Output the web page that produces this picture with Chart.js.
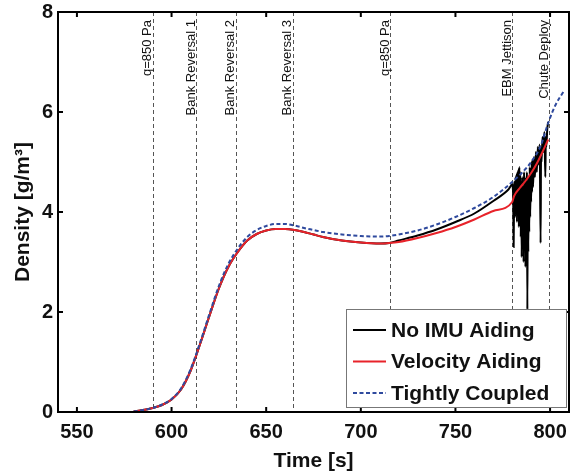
<!DOCTYPE html>
<html>
<head>
<meta charset="utf-8">
<script src="https://cdn.jsdelivr.net/npm/chart.js@4.4.1/dist/chart.umd.min.js"></script>
<style>
  body { margin: 0; background: #fff; }
  canvas { display: block; }
</style>
</head>
<body>
<canvas id="graficodensidad" width="571" height="474"></canvas>
<script>
// Values
const noAidTime = [580, 585, 590, 595, 600, 605, 610, 615, 620, 625, 630, 635, 640, 645, 650, 655, 660, 665, 670, 675, 680, 690, 700, 710, 715, 720, 730, 740, 750, 760, 770, 778,
  780, 780.25, 780.5, 780.75, 781, 781.25, 781.5, 781.75, 782, 782.25, 782.5, 782.75, 783, 783.25, 783.5, 783.75,
  784, 784.25, 784.5, 784.75, 785, 785.25, 785.5, 785.75, 786, 786.25, 786.5, 786.75, 787, 787.25, 787.5, 787.75,
  788, 788.25, 788.5, 788.75, 789, 789.25, 789.5, 789.75, 790, 790.25, 790.5, 790.75, 791, 791.5, 792, 792.5,
  793, 793.5, 794, 794.5, 795, 795.25, 795.5, 796, 796.5, 797, 797.5, 797.75, 798, 798.5, 799];
const noAidDensity = [0.01, 0.04, 0.08, 0.14, 0.25, 0.45, 0.82, 1.35, 1.92, 2.47, 2.9, 3.2, 3.43, 3.56, 3.63, 3.66, 3.66, 3.64, 3.6, 3.55, 3.5, 3.43, 3.39, 3.37, 3.38, 3.43, 3.53, 3.65, 3.8, 3.97, 4.22, 4.45,
  4.55, 4.5, 4.3, 3.3, 4.4, 4.6, 3.9, 4.7, 4.3, 4.75, 3.8, 4.8, 4.1, 4.85, 3.7, 4.9,
  4.2, 4.8, 3.5, 4.6, 3.1, 4.7, 3.6, 4.5, 3.0, 4.8, 3.3, 4.6, 2.9, 4.7, 3.4, 4.8,
  2.05, 4.6, 3.2, 4.7, 3.6, 4.9, 3.9, 4.8, 4.2, 5.0, 4.4, 5.05, 4.5, 5.1, 4.7, 5.2,
  4.8, 5.3, 4.95, 5.35, 3.38, 5.3, 5.0, 5.5, 5.2, 5.6, 4.7, 5.5, 5.3, 5.65, 5.8];

const velTime = [580, 585, 590, 595, 600, 605, 610, 615, 620, 625, 630, 635, 640, 645, 650, 655, 660, 665, 670, 675, 680, 690, 700, 710, 715, 720, 730, 740, 750, 760, 770, 780, 781, 784, 787, 790, 793, 796, 799];
const velDensity = [0.01, 0.04, 0.08, 0.14, 0.25, 0.45, 0.82, 1.35, 1.92, 2.47, 2.9, 3.2, 3.43, 3.56, 3.63, 3.66, 3.66, 3.64, 3.6, 3.55, 3.5, 3.43, 3.39, 3.37, 3.38, 3.4, 3.48, 3.58, 3.7, 3.85, 4.02, 4.2, 4.32, 4.48, 4.62, 4.78, 4.97, 5.2, 5.45];

const tightTime = [580, 585, 590, 595, 600, 605, 610, 615, 620, 625, 630, 635, 640, 645, 650, 655, 660, 665, 670, 675, 680, 690, 700, 710, 715, 720, 730, 740, 750, 760, 770, 780, 785, 790, 795, 799, 803, 807];
const tightDensity = [0.01, 0.04, 0.08, 0.15, 0.26, 0.47, 0.85, 1.38, 1.96, 2.52, 2.96, 3.27, 3.5, 3.64, 3.72, 3.76, 3.76, 3.73, 3.68, 3.64, 3.6, 3.55, 3.52, 3.51, 3.52, 3.55, 3.63, 3.75, 3.9, 4.08, 4.3, 4.6, 4.78, 5.0, 5.32, 5.78, 6.15, 6.4];

const seriesLabels = ['No IMU Aiding', 'Velocity Aiding', 'Tightly Coupled'];

const eventTimes = [590, 613, 634, 664, 715.5, 780, 799.5];
const eventLabels = ['q=850 Pa', 'Bank Reversal 1', 'Bank Reversal 2', 'Bank Reversal 3', 'q=850 Pa', 'EBM Jettison', 'Chute Deploy'];

const xTicks = [550, 600, 650, 700, 750, 800];
const yTicks = [0, 2, 4, 6, 8];

const toPoints = (t, v) => t.map((x, i) => ({x: x, y: v[i]}));

const fuente = '"Liberation Sans", Arial, Helvetica, sans-serif';

// event lines, labels, box frame, inward ticks and legend
const marcoPlugin = {
    id: 'marco',
    beforeDatasetsDraw(chart) {
        const {ctx, chartArea: a, scales: {x}} = chart;
        ctx.save();
        ctx.strokeStyle = '#555';
        ctx.lineWidth = 1;
        ctx.setLineDash([4, 3]);
        eventTimes.forEach(t => {
            const px = Math.round(x.getPixelForValue(t)) + 0.5;
            ctx.beginPath();
            ctx.moveTo(px, a.top);
            ctx.lineTo(px, a.bottom);
            ctx.stroke();
        });
        ctx.setLineDash([]);
        ctx.fillStyle = '#111';
        ctx.font = '13px ' + fuente;
        ctx.textAlign = 'right';
        ctx.textBaseline = 'alphabetic';
        eventTimes.forEach((t, i) => {
            ctx.save();
            ctx.translate(x.getPixelForValue(t) - 1.5, a.top + 8);
            ctx.rotate(-Math.PI / 2);
            ctx.fillText(eventLabels[i], 0, 0);
            ctx.restore();
        });
        ctx.restore();
    },
    afterDatasetsDraw(chart) {
        const {ctx, chartArea: a, scales: {x, y}} = chart;
        ctx.save();
        ctx.strokeStyle = '#000';
        ctx.lineWidth = 2;
        ctx.strokeRect(a.left, a.top, a.right - a.left, a.bottom - a.top);
        ctx.beginPath();
        xTicks.forEach(v => {
            const px = x.getPixelForValue(v);
            ctx.moveTo(px, a.bottom); ctx.lineTo(px, a.bottom - 5);
            ctx.moveTo(px, a.top); ctx.lineTo(px, a.top + 5);
        });
        yTicks.forEach(v => {
            const py = y.getPixelForValue(v);
            ctx.moveTo(a.left, py); ctx.lineTo(a.left + 5, py);
            ctx.moveTo(a.right, py); ctx.lineTo(a.right - 5, py);
        });
        ctx.stroke();

        // legend box
        const lx = a.right - 223, ly = a.bottom - 103, w = 220, h = 98;
        ctx.fillStyle = '#fff';
        ctx.fillRect(lx, ly, w, h);
        ctx.strokeStyle = '#777';
        ctx.lineWidth = 1;
        ctx.strokeRect(lx + 0.5, ly + 0.5, w, h);
        ctx.font = 'bold 21px ' + fuente;
        ctx.textBaseline = 'middle';
        ctx.textAlign = 'left';
        chart.data.datasets.forEach((ds, i) => {
            const ry = ly + 21 + i * 31.5;
            ctx.strokeStyle = ds.borderColor;
            ctx.lineWidth = 2;
            ctx.setLineDash(ds.borderDash || []);
            ctx.beginPath();
            ctx.moveTo(lx + 7, ry);
            ctx.lineTo(lx + 40, ry);
            ctx.stroke();
            ctx.setLineDash([]);
            ctx.fillStyle = '#111';
            ctx.fillText(ds.label, lx + 45, ry + 1);
        });
        ctx.restore();
    }
};

const ctx = document.getElementById('graficodensidad').getContext('2d');
new Chart(ctx, {
    type: 'line',
    data: {
        datasets: [{
            label: seriesLabels[0],
            data: toPoints(noAidTime, noAidDensity),
            borderColor: '#000000',
            borderWidth: 2,
            order: 2
        }, {
            label: seriesLabels[1],
            data: toPoints(velTime, velDensity),
            borderColor: '#e8232a',
            borderWidth: 2,
            order: 1
        }, {
            label: seriesLabels[2],
            data: toPoints(tightTime, tightDensity),
            borderColor: '#2f4a9e',
            borderWidth: 2,
            borderDash: [4, 2.5],
            order: 0
        }]
    },
    options: {
        responsive: false,
        animation: false,
        events: [],
        layout: { padding: { top: 12, right: 2, left: 0, bottom: 0 } },
        elements: {
            point: { radius: 0 },
            line: { cubicInterpolationMode: 'monotone', fill: false }
        },
        plugins: { legend: { display: false }, tooltip: { enabled: false } },
        scales: {
            x: {
                type: 'linear',
                min: 540,
                max: 810,
                border: { display: false },
                grid: { display: false, drawTicks: false },
                afterBuildTicks: s => { s.ticks = xTicks.map(v => ({value: v})); },
                afterFit: s => { s.height = 62; s.paddingLeft = 0; s.paddingRight = 0; },
                ticks: { padding: 8, color: '#111', font: { family: fuente, size: 20, weight: 'bold' } },
                title: { display: true, text: 'Time [s]', color: '#111', padding: { top: 4, bottom: 0 }, font: { family: fuente, size: 21, weight: 'bold' } }
            },
            y: {
                min: 0,
                max: 8,
                border: { display: false },
                grid: { display: false, drawTicks: false },
                afterBuildTicks: s => { s.ticks = yTicks.map(v => ({value: v})); },
                afterFit: s => { s.width = 58; s.paddingTop = 0; s.paddingBottom = 0; },
                ticks: { padding: 5, color: '#111', font: { family: fuente, size: 20, weight: 'bold' } },
                title: { display: true, text: 'Density [g/m³]', color: '#111', padding: { top: 11, bottom: 0 }, font: { family: fuente, size: 21, weight: 'bold' } }
            }
        }
    },
    plugins: [marcoPlugin]
});
</script>
</body>
</html>
